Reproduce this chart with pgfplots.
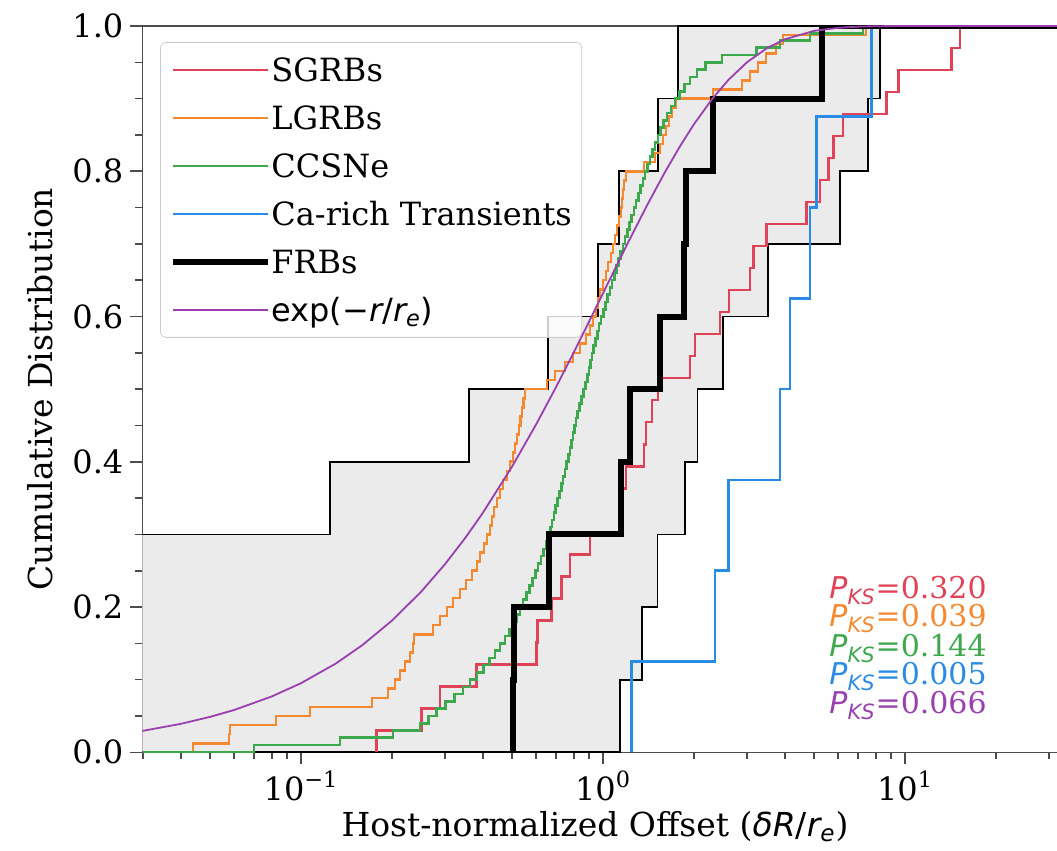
\documentclass[border=0pt]{standalone}
\usepackage{fontspec}
\setmainfont{DejaVu Serif}
\newfontfamily\sansf{DejaVu Sans}
\usepackage{pgfplots}
\usepackage{pgfplotstable}
\pgfplotsset{compat=1.18}
\usepgfplotslibrary{fillbetween}

\definecolor{cSG}{HTML}{E04358}
\definecolor{cLG}{HTML}{F5892F}
\definecolor{cCC}{HTML}{3DA84C}
\definecolor{cCA}{HTML}{2A8BE6}
\definecolor{cEX}{HTML}{9A3FB0}
\newcommand{\fs}{\fontsize{16bp}{19bp}\selectfont}
\newcommand{\fl}{\fontsize{16.5bp}{19bp}\selectfont}
\newcommand{\fp}{\fontsize{15bp}{17bp}\selectfont}

\pgfplotstableread{
x y
0.02981 0.3
0.12474 0.4
0.3600 0.5
0.6589 0.6
0.9626 0.7
1.1297 0.8
1.5207 0.9
1.7757 1.0
31.86 1.0
}\bandup

\pgfplotstableread{
x y
0.02981 0
1.1384 0.1
1.3435 0.2
1.5153 0.3
1.8688 0.4
2.0557 0.5
2.5023 0.6
3.5269 0.7
6.0916 0.8
7.558 0.9
8.265 1.0
31.86 1.0
}\bandlo

\pgfplotstableread{
x y
0.1781 0
0.1781 0.0303
0.2510 0.0606
0.2886 0.0909
0.3818 0.1212
0.6033 0.1515
0.6070 0.1818
0.6763 0.2121
0.7300 0.2424
0.7776 0.2727
0.9057 0.3030
1.1471 0.3333
1.1648 0.3636
1.1918 0.3939
1.3671 0.4242
1.3882 0.4545
1.4533 0.4848
1.5207 0.5152
1.9413 0.5455
2.0168 0.5758
2.4396 0.6061
2.6143 0.6364
3.0670 0.6667
3.1454 0.6970
3.4837 0.7273
4.7260 0.7576
5.2314 0.7879
5.5720 0.8182
5.7885 0.8485
6.2330 0.8788
8.6986 0.9091
9.5020 0.9394
14.276 0.9697
15.208 1.0
31.86 1.0
}\sgrb

\pgfplotstableread{
x y
0.04389 0
0.04389 0.0125
0.05776 0.025
0.05820 0.0375
0.08265 0.05
0.10710 0.0625
0.17184 0.075
0.19413 0.0875
0.20478 0.1
0.21273 0.1125
0.22098 0.125
0.22955 0.1375
0.23486 0.15
0.23666 0.1625
0.27359 0.175
0.28860 0.1875
0.30437 0.2
0.31865 0.2125
0.33610 0.225
0.35183 0.2375
0.36830 0.25
0.38262 0.2625
0.39147 0.275
0.40356 0.2875
0.41290 0.3
0.42245 0.3125
0.42894 0.325
0.43554 0.3375
0.44563 0.35
0.45593 0.3625
0.46648 0.375
0.48094 0.3875
0.49206 0.4
0.50345 0.4125
0.51118 0.425
0.51904 0.4375
0.52702 0.45
0.53308 0.4625
0.53921 0.475
0.54457 0.4875
0.55168 0.5
0.65239 0.5125
0.69348 0.525
0.74863 0.5375
0.79554 0.55
0.83905 0.5625
0.87847 0.575
0.90570 0.5875
0.92660 0.6
0.94808 0.6125
0.96260 0.625
0.97739 0.6375
1.0000 0.65
1.0231 0.6625
1.0389 0.675
1.0629 0.6875
1.0792 0.7
1.0958 0.7125
1.1126 0.725
1.1297 0.7375
1.1471 0.75
1.1559 0.7625
1.1648 0.775
1.1737 0.7875
1.1918 0.8
1.3671 0.8125
1.4864 0.825
1.5440 0.8375
1.5797 0.85
1.6163 0.8625
1.6537 0.875
1.6919 0.8875
1.7449 0.9
2.3131 0.9125
2.8853 0.925
3.0670 0.9375
3.2603 0.95
3.4651 0.9625
3.7398 0.975
3.9453 0.9875
7.4291 1.0
31.86 1.0
}\lgrb

\pgfplotstableread{
x y
0.02981 0
0.0699 0.01
0.1347 0.02
0.2017 0.03
0.2478 0.04
0.2642 0.05
0.2814 0.06
0.3005 0.07
0.3223 0.08
0.3433 0.09
0.3625 0.10
0.3826 0.11
0.4011 0.12
0.4202 0.13
0.4389 0.14
0.4559 0.15
0.4737 0.16
0.4891 0.17
0.5027 0.18
0.5167 0.19
0.5311 0.20
0.5437 0.21
0.5568 0.22
0.5701 0.23
0.5837 0.24
0.5963 0.25
0.6092 0.26
0.6223 0.27
0.6358 0.28
0.6494 0.29
0.6599 0.30
0.6691 0.31
0.6783 0.32
0.6877 0.33
0.6972 0.34
0.7068 0.35
0.7173 0.36
0.7272 0.37
0.7373 0.38
0.7475 0.39
0.7578 0.40
0.7671 0.41
0.7765 0.42
0.7855 0.43
0.7943 0.44
0.8041 0.45
0.8133 0.46
0.8239 0.47
0.8366 0.48
0.8495 0.49
0.8625 0.50
0.8758 0.51
0.8879 0.52
0.8981 0.53
0.9084 0.54
0.9182 0.55
0.9294 0.56
0.9430 0.57
0.9567 0.58
0.9707 0.59
0.9856 0.60
1.0023 0.61
1.0192 0.62
1.0357 0.63
1.0532 0.64
1.0710 0.65
1.0891 0.66
1.1066 0.67
1.1254 0.68
1.1445 0.69
1.1630 0.70
1.1827 0.71
1.2027 0.72
1.2230 0.73
1.2437 0.74
1.2647 0.75
1.2860 0.76
1.3088 0.77
1.3311 0.78
1.3546 0.79
1.3775 0.80
1.4041 0.81
1.4311 0.82
1.4587 0.83
1.4864 0.84
1.5196 0.85
1.5524 0.86
1.5870 0.87
1.6287 0.88
1.6790 0.89
1.7310 0.90
1.7934 0.91
1.8574 0.92
1.9399 0.93
2.0494 0.94
2.1847 0.95
2.4795 0.96
3.2183 0.97
3.8555 0.98
4.8475 0.99
7.2610 1.0
31.86 1.0
}\ccsn

\pgfplotstableread{
x y
1.2445 0
1.2445 0.125
2.3486 0.25
2.6000 0.375
3.8555 0.5
4.1613 0.625
4.8475 0.75
5.1020 0.875
7.758 1.0
31.86 1.0
}\carich

\pgfplotstableread{
x y
0.502 0
0.502 0.1
0.507 0.2
0.660 0.3
1.147 0.4
1.2286 0.5
1.544 0.6
1.8543 0.7
1.883 0.8
2.3131 0.9
5.311 1.0
31.86 1.0
}\frb

\pgfplotstableread{
x y
0.02981 0.0294
0.04 0.0392
0.05 0.0488
0.06 0.0582
0.08 0.0769
0.1 0.0952
0.13 0.1219
0.16 0.1479
0.2 0.1813
0.25 0.2212
0.3 0.2592
0.35 0.2953
0.4 0.3297
0.5 0.3935
0.6 0.4512
0.7 0.5034
0.8 0.5507
0.9 0.5934
1.0 0.6321
1.2 0.6988
1.4 0.7534
1.6 0.7981
1.8 0.8347
2.0 0.8647
2.3 0.8997
2.6 0.9257
3.0 0.9502
3.5 0.9698
4 0.9817
5 0.9933
6 0.9975
7 0.9991
8 0.9997
10 1.0
31.86 1.0
}\expm

\begin{document}
\begin{tikzpicture}
\begin{axis}[
  name=ax,
  scale only axis,
  width=457.35bp, height=363.15bp,
  xmode=log,
  xmin=0.02981, xmax=31.86, ymin=0, ymax=1,
  axis x line*=box, axis y line*=left,
  axis line style={black!70, line width=0.8bp},
  xtick pos=left, ytick pos=left,
  tick align=outside,
  major tick length=6bp, minor tick length=3.5bp,
  tick style={black!70, line width=0.8bp},
  xtick={0.1,1,10},
  xticklabels={10\textsuperscript{−1},10\textsuperscript{0},10\textsuperscript{1}},
  minor xtick={0.03,0.04,0.05,0.06,0.07,0.08,0.09,0.2,0.3,0.4,0.5,0.6,0.7,0.8,0.9,2,3,4,5,6,7,8,9,20,30},
  ytick={0,0.2,0.4,0.6,0.8,1},
  yticklabels={0.0,0.2,0.4,0.6,0.8,1.0},
  minor ytick={0.05,0.1,0.15,0.25,0.3,0.35,0.45,0.5,0.55,0.65,0.7,0.75,0.85,0.9,0.95},
  tick label style={font=\fs},
  label style={font=\fl},
  xlabel={Host-normalized Offset ({\sansf\itshape δR}{\sansf /}{\sansf\itshape r\textsubscript{e}})},
  ylabel={Cumulative Distribution},
  xlabel style={at={(axis description cs:0.4949,0)}, anchor=north, yshift=-26bp},
  ylabel style={at={(axis description cs:-0.1118,0.5)}, anchor=center},
  legend style={at={(axis description cs:0,1)}, anchor=north west, xshift=8.85bp, yshift=-8bp,
    font=\fs, fill=white, fill opacity=0.8, text opacity=1, draw=black!20, draw opacity=1,
    rounded corners=3bp, inner xsep=5bp, inner ysep=5.5bp, row sep=7.5bp,
    nodes={inner sep=0pt, text height=14bp, text depth=2.5bp}},
  legend cell align=left,
  legend image code/.code={\draw[#1] (0bp,0bp) -- (35bp,0bp); \path (0bp,0bp) -- (47.5bp,0bp);},
]
\addplot[draw=none, name path=up, const plot, forget plot] table {\bandup};
\addplot[draw=none, name path=lo, const plot, forget plot] table {\bandlo};
\addplot[fill=black!8, draw=none, forget plot] fill between[of=up and lo];
\addplot[black, line width=0.85bp, const plot, forget plot] table {\bandup};
\addplot[black, line width=0.85bp, const plot, forget plot] table {\bandlo};

\addplot[cSG, line width=1.3bp, const plot] table {\sgrb};
\addlegendentry{SGRBs}
\addplot[cLG, line width=1.3bp, const plot] table {\lgrb};
\addlegendentry{LGRBs}
\addplot[cCC, line width=1.3bp, const plot] table {\ccsn};
\addlegendentry{CCSNe}
\addplot[cCA, line width=1.3bp, const plot] table {\carich};
\addlegendentry{Ca-rich Transients}
\addplot[black, line width=3bp, const plot] table {\frb};
\addlegendentry{FRBs}
\addplot[cEX, line width=0.9bp] table {\expm};
\addlegendentry{{\sansf exp(−{\itshape r}/{\itshape r\textsubscript{e}})}}

\node[anchor=base east, font=\fp, text=cSG, inner sep=0pt] at (axis cs:18.69,0.2120) {{\sansf\itshape P\textsubscript{KS}}=0.320};
\node[anchor=base east, font=\fp, text=cLG, inner sep=0pt] at (axis cs:18.69,0.1729) {{\sansf\itshape P\textsubscript{KS}}=0.039};
\node[anchor=base east, font=\fp, text=cCC, inner sep=0pt] at (axis cs:18.69,0.1316) {{\sansf\itshape P\textsubscript{KS}}=0.144};
\node[anchor=base east, font=\fp, text=cCA, inner sep=0pt] at (axis cs:18.69,0.0927) {{\sansf\itshape P\textsubscript{KS}}=0.005};
\node[anchor=base east, font=\fp, text=cEX, inner sep=0pt] at (axis cs:18.69,0.0537) {{\sansf\itshape P\textsubscript{KS}}=0.066};
\end{axis}
\pgfresetboundingbox
\path[use as bounding box] ([xshift=-71.15bp,yshift=-49.35bp]ax.south west) rectangle ([yshift=13bp]ax.north east);
\end{tikzpicture}
\end{document}
